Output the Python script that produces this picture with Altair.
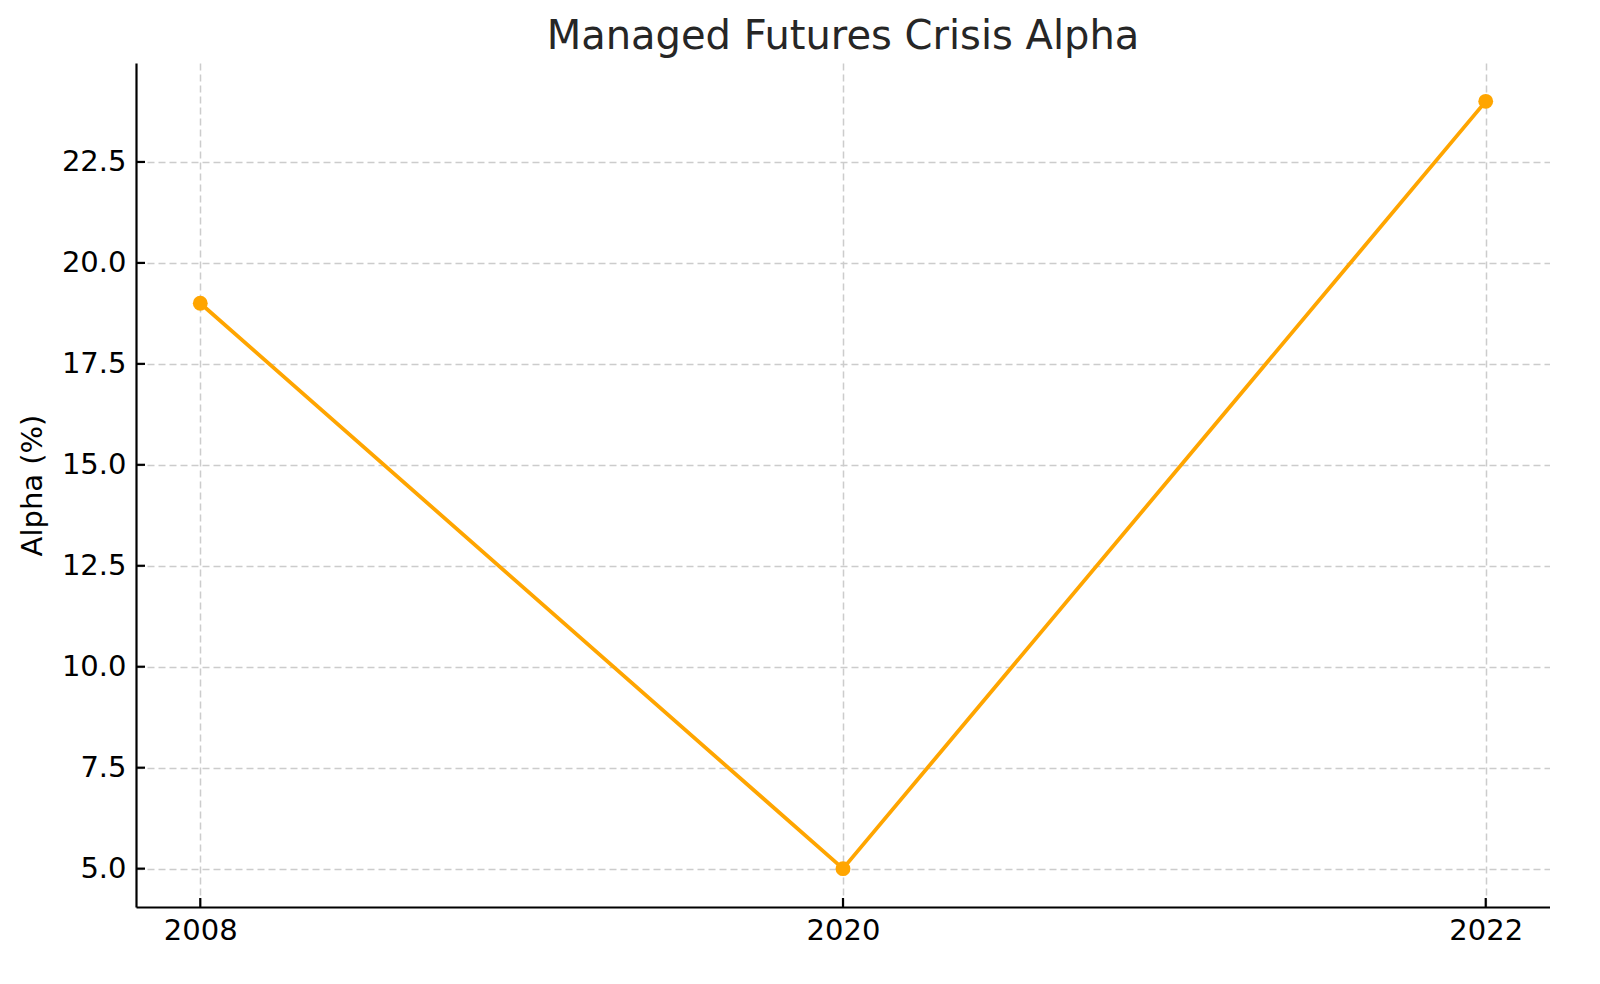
import altair as alt
import pandas as pd

# values
years = ["2008", "2020", "2022"]
alpha = [19.0, 5.0, 24.0]
y_ticks = [5.0, 7.5, 10.0, 12.5, 15.0, 17.5, 20.0, 22.5]

df = pd.DataFrame({"Year": years, "Alpha": alpha})
ticks_y = pd.DataFrame({"Alpha": y_ticks})
ticks_x = pd.DataFrame({"Year": years})

FONT = "DejaVu Sans"
W, H = 1414, 844

x_scale = alt.Scale(type="point", padding=0.1, domain=years)
y_scale = alt.Scale(domain=[4.05, 24.95], nice=False, zero=False)

x_axis = alt.Axis(title=None, labelAngle=0, ticks=False, labelPadding=9, grid=True)
y_axis = alt.Axis(title="Alpha (%)", values=y_ticks, format=".1f",
                  ticks=False, labelPadding=10, grid=True,
                  titleX=-104, titleY=H / 2, titleAngle=-90,
                  titleAlign="center", titleBaseline="middle")

base = alt.Chart(df).encode(
    x=alt.X("Year:O", scale=x_scale, axis=x_axis),
    y=alt.Y("Alpha:Q", scale=y_scale, axis=y_axis),
)

line = base.mark_line(color="#FFA500", strokeWidth=3.8)
points = base.mark_circle(color="#FFA500", size=220, opacity=1)

# matplotlib-style inward tick marks
yt = alt.Chart(ticks_y).mark_rule(color="black", strokeWidth=2.2).encode(
    y=alt.Y("Alpha:Q", scale=y_scale, axis=y_axis),
    x=alt.value(0), x2=alt.value(9),
)
xt = alt.Chart(ticks_x).mark_rule(color="black", strokeWidth=2.2).encode(
    x=alt.X("Year:O", scale=x_scale, axis=x_axis),
    y=alt.value(H), y2=alt.value(H - 9),
)

chart = alt.layer(line, points, yt, xt).properties(
    width=W,
    height=H,
    autosize=alt.AutoSizeParams(type="none"),
    padding={"left": 128, "top": 55, "right": 0, "bottom": 60},
    title=alt.TitleParams(
        text="Managed Futures Crisis Alpha",
        font=FONT, fontSize=40, fontWeight="normal", color="#262626",
        anchor="middle", frame="group", offset=6,
    ),
).configure_axis(
    labelFont=FONT, labelFontSize=29, labelColor="black",
    titleFont=FONT, titleFontSize=29, titleColor="black", titleFontWeight="normal",
    domainColor="black", domainWidth=2.2,
    gridColor="#cccccc", gridWidth=1.5, gridDash=[7, 4],
).configure_view(
    strokeWidth=0
)

chart.save("out.html", embed_options={"renderer": "svg", "actions": False})
